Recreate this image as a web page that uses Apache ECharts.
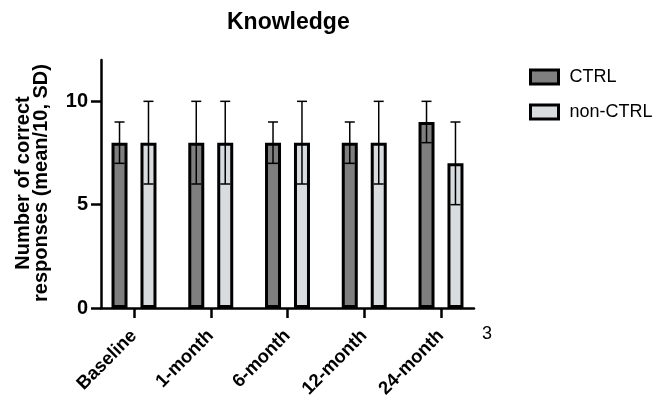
<!DOCTYPE html>
<html>
<head>
<meta charset="utf-8">
<script src="https://cdn.jsdelivr.net/npm/echarts@6/dist/echarts.min.js"></script>
<style>
html,body{margin:0;padding:0;background:#fff;}
#chart{width:668px;height:395px;}
</style>
</head>
<body>
<div id="chart"></div>
<script>
const categories = ['Baseline', '1-month', '6-month', '12-month', '24-month'];
const ctrlMean = [8, 8, 8, 8, 9];
const ctrlSD = [1, 2, 1, 1, 1];
const nonCtrlMean = [8, 8, 8, 8, 7];
const nonCtrlSD = [2, 2, 2, 2, 2];
const yTicks = [0, 5, 10];
const seriesNames = ['CTRL', 'non-CTRL'];

const FONT = '"Liberation Sans", Arial, Helvetica, sans-serif';
const BAR_W = 16;
const BAR_GAP = '81%';
const HALF_OFFSET = (BAR_W * 1.81) / 2;

const chart = echarts.init(document.getElementById('chart'), null, {renderer: 'canvas'});

function errorSeries(name, means, sds, dir) {
  return {
    type: 'custom',
    name: name + ' SD',
    z: 5,
    silent: true,
    data: categories.map((c, i) => [i, means[i] - sds[i], means[i] + sds[i]]),
    renderItem: function (params, api) {
      const x = api.value(0);
      const lo = api.coord([x, api.value(1)]);
      const hi = api.coord([x, api.value(2)]);
      const cx = lo[0] + dir * HALF_OFFSET;
      const cap = 5;
      const st = {stroke: '#000', lineWidth: 1.5};
      return {
        type: 'group',
        children: [
          {type: 'line', shape: {x1: cx, y1: lo[1], x2: cx, y2: hi[1]}, style: st},
          {type: 'line', shape: {x1: cx - cap, y1: hi[1], x2: cx + cap, y2: hi[1]}, style: st},
          {type: 'line', shape: {x1: cx - cap, y1: lo[1], x2: cx + cap, y2: lo[1]}, style: st}
        ]
      };
    }
  };
}

const option = {
  animation: false,
  backgroundColor: '#fff',
  title: {
    text: 'Knowledge',
    left: 222,
    top: 6,
    textStyle: {fontFamily: FONT, fontSize: 23, fontWeight: 'bold', color: '#000'}
  },
  legend: {
    data: seriesNames,
    orient: 'vertical',
    left: 524,
    top: 63,
    itemWidth: 28,
    itemHeight: 14,
    itemGap: 17,
    icon: 'rect',
    textStyle: {fontFamily: FONT, fontSize: 18, color: '#000', padding: [0, 0, 0, 6]},
    itemStyle: {borderColor: '#000', borderWidth: 3}
  },
  grid: {left: 101, right: 194, top: 60, bottom: 87, containLabel: false, outerBoundsMode: 'none'},
  xAxis: {
    type: 'value',
    min: -0.43,
    max: 4.43,
    splitLine: {show: false},
    axisLine: {show: true, onZero: false, lineStyle: {color: '#000', width: 2.5}},
    axisTick: {show: true, length: 10, customValues: [0, 1, 2, 3, 4], lineStyle: {color: '#000', width: 2.5}},
    axisLabel: {
      customValues: [0, 1, 2, 3, 4],
      formatter: v => categories[Math.round(v)],
      rotate: 45,
      margin: 25,
      fontFamily: FONT, fontSize: 18.5, fontWeight: 'bold', color: '#000'
    }
  },
  yAxis: {
    type: 'value',
    min: 0,
    max: 12,
    splitLine: {show: false},
    axisLine: {show: true, onZero: false, lineStyle: {color: '#000', width: 2.5}},
    axisTick: {show: true, length: 10, customValues: yTicks, lineStyle: {color: '#000', width: 2.5}},
    axisLabel: {
      customValues: yTicks,
      margin: 13,
      fontFamily: FONT, fontSize: 20, fontWeight: 'bold', color: '#000'
    }
  },
  graphic: [
    {
      type: 'text',
      x: 32, y: 183,
      rotation: Math.PI / 2,
      style: {
        text: 'Number of correct\nresponses (mean/10, SD)',
        fontFamily: FONT, fontSize: 20, fontWeight: 'bold', fill: '#000',
        align: 'center', verticalAlign: 'middle', lineHeight: 18
      }
    },
    {
      type: 'text',
      x: 487, y: 334,
      style: {
        text: '3',
        fontFamily: FONT, fontSize: 18, fill: '#000',
        align: 'center', verticalAlign: 'middle'
      }
    }
  ],
  series: [
    {
      name: seriesNames[0],
      type: 'bar',
      barWidth: BAR_W,
      barGap: BAR_GAP,
      data: categories.map((c, i) => [i, ctrlMean[i]]),
      itemStyle: {color: '#7f7f7f', borderColor: '#000', borderWidth: 3}
    },
    {
      name: seriesNames[1],
      type: 'bar',
      barWidth: BAR_W,
      barGap: BAR_GAP,
      data: categories.map((c, i) => [i, nonCtrlMean[i]]),
      itemStyle: {color: '#d8dcdf', borderColor: '#000', borderWidth: 3}
    },
    errorSeries('CTRL', ctrlMean, ctrlSD, -1),
    errorSeries('non-CTRL', nonCtrlMean, nonCtrlSD, 1)
  ]
};
chart.setOption(option);
</script>
</body>
</html>
